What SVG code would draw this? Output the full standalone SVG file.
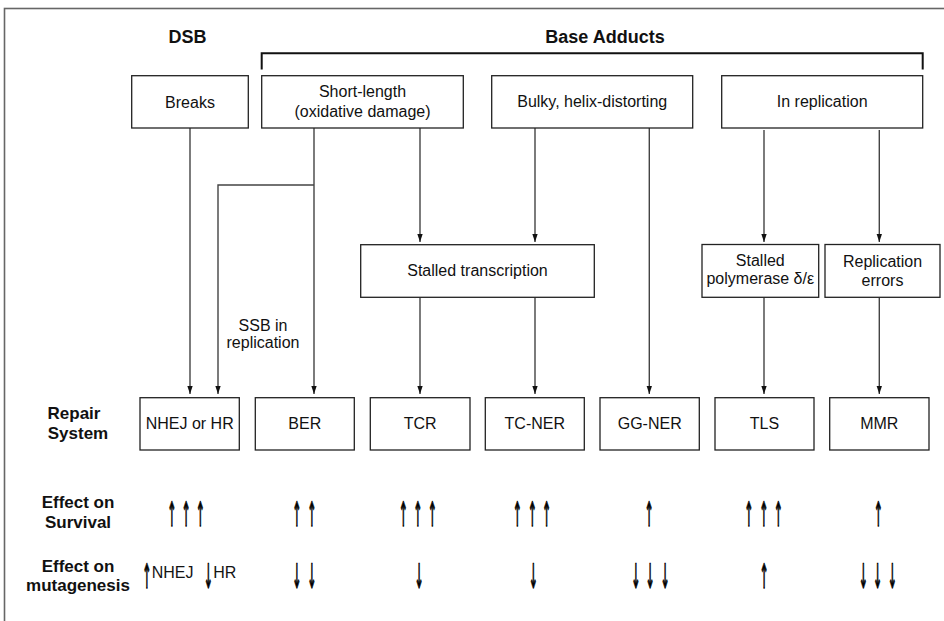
<svg xmlns="http://www.w3.org/2000/svg" width="944" height="621" viewBox="0 0 944 621">
<defs>
<marker id="ah" markerUnits="userSpaceOnUse" markerWidth="8" markerHeight="11" refX="10.5" refY="3.5" orient="auto" viewBox="0 0 10.5 7">
<path d="M0,0 L10.5,3.5 L0,7 z" fill="#111"/>
</marker>
<style>
.box{fill:#fff;stroke:#222;stroke-width:1.3}
.t{font-family:"Liberation Sans",Arial,sans-serif;font-size:16px;fill:#111;text-anchor:middle}
.b{font-family:"Liberation Sans",Arial,sans-serif;font-size:17px;font-weight:bold;fill:#111;text-anchor:middle}
.h{font-family:"Liberation Sans",Arial,sans-serif;font-size:18px;font-weight:bold;fill:#111;text-anchor:middle}
.ar{font-family:"DejaVu Sans",sans-serif;font-size:24px;fill:#000;stroke:#000;stroke-width:0.9;text-anchor:middle}
.s{font-family:"Liberation Sans",Arial,sans-serif;font-size:16px;fill:#111}
.ca{fill:none;stroke:#444;stroke-width:1.4;marker-end:url(#ah)}
.ag{opacity:0.99}
</style>
</defs>
<rect x="0" y="0" width="944" height="621" fill="#fff"/>
<rect x="4.5" y="8.5" width="960" height="640" fill="none" stroke="#666" stroke-width="1.6"/>

<g id="headers">
<text class="h" x="187.5" y="42.5">DSB</text>
<text class="h" x="605" y="42.5">Base Adducts</text>
<path d="M261.7,69.5 V53.3 H922.7 V69.5" fill="none" stroke="#111" stroke-width="2"/>
</g>

<g id="connectors">
<line class="ca" x1="190" y1="128" x2="190" y2="394"/>
<line class="ca" x1="314" y1="128" x2="314" y2="394"/>
<polyline class="ca" points="314,185 218,185 218,394"/>
<line class="ca" x1="420" y1="128" x2="420" y2="242"/>
<line class="ca" x1="535" y1="128" x2="535" y2="242"/>
<line class="ca" x1="649.3" y1="128" x2="649.3" y2="394"/>
<line class="ca" x1="420" y1="297.5" x2="420" y2="394"/>
<line class="ca" x1="535" y1="297.5" x2="535" y2="394"/>
<line class="ca" x1="764" y1="130" x2="764" y2="242"/>
<line class="ca" x1="879.3" y1="130" x2="879.3" y2="242"/>
<line class="ca" x1="764" y1="297.5" x2="764" y2="394"/>
<line class="ca" x1="879.3" y1="297.5" x2="879.3" y2="394"/>
</g>

<g id="n-breaks"><rect class="box" x="131.7" y="75.7" width="116.6" height="52.3"/><text class="t" x="190" y="107.5">Breaks</text></g>
<g id="n-short"><rect class="box" x="261.7" y="75.7" width="201.6" height="52.3"/><text class="t" x="362.5" y="97">Short-length</text><text class="t" x="362.5" y="116.5">(oxidative damage)</text></g>
<g id="n-bulky"><rect class="box" x="491.7" y="75.7" width="201" height="52.3"/><text class="t" x="592.2" y="107">Bulky, helix-distorting</text></g>
<g id="n-inrep"><rect class="box" x="721.7" y="75.7" width="201" height="52.3"/><text class="t" x="822.2" y="107">In replication</text></g>

<g id="n-stalledtx"><rect class="box" x="360.7" y="244.7" width="233.6" height="52.6"/><text class="t" x="477.5" y="275.5">Stalled transcription</text></g>
<g id="n-stalledpol"><rect class="box" x="702" y="244.5" width="116.7" height="52.8"/><text class="t" x="760.3" y="266">Stalled</text><text class="t" x="760.3" y="284">polymerase δ/ε</text></g>
<g id="n-reperr"><rect class="box" x="825" y="244.5" width="115" height="52.8"/><text class="t" x="882.5" y="266.5">Replication</text><text class="t" x="882.5" y="285.5">errors</text></g>

<g id="ssb-label"><text class="t" x="263" y="330.5">SSB in</text><text class="t" x="263" y="348">replication</text></g>

<g id="row-labels">
<text class="b" x="74" y="419">Repair</text>
<text class="b" x="78" y="439">System</text>
<text class="b" x="78" y="508">Effect on</text>
<text class="b" x="78" y="528">Survival</text>
<text class="b" x="78" y="572">Effect on</text>
<text class="b" x="78" y="591">mutagenesis</text>
</g>

<g id="n-nhej"><rect class="box" x="140" y="397.7" width="99.3" height="52.3"/><text class="t" x="189.7" y="428.5">NHEJ or HR</text></g>
<g id="n-ber"><rect class="box" x="255.3" y="397.7" width="99" height="52.3"/><text class="t" x="304.8" y="428.5">BER</text></g>
<g id="n-tcr"><rect class="box" x="370.3" y="397.7" width="99.7" height="52.3"/><text class="t" x="420.2" y="428.5">TCR</text></g>
<g id="n-tcner"><rect class="box" x="485.3" y="397.7" width="99" height="52.3"/><text class="t" x="534.8" y="428.5">TC-NER</text></g>
<g id="n-ggner"><rect class="box" x="600" y="397.7" width="99.3" height="52.3"/><text class="t" x="649.7" y="428.5">GG-NER</text></g>
<g id="n-tls"><rect class="box" x="715" y="397.7" width="99" height="52.3"/><text class="t" x="764.5" y="428.5">TLS</text></g>
<g id="n-mmr"><rect class="box" x="829.7" y="397.7" width="99.3" height="52.3"/><text class="t" x="879.3" y="428.5">MMR</text></g>

<g id="survival" class="ag">
<g transform="translate(186,526) scale(0.45,1.4)"><text class="ar" x="-31.8 0 31.8" y="0">↑↑↑</text></g>
<g transform="translate(304.2,526) scale(0.45,1.4)"><text class="ar" x="-16.7 16.7" y="0">↑↑</text></g>
<g transform="translate(417.8,526) scale(0.45,1.4)"><text class="ar" x="-32.2 0 32.2" y="0">↑↑↑</text></g>
<g transform="translate(532.2,526) scale(0.45,1.4)"><text class="ar" x="-33.3 0 32" y="0">↑↑↑</text></g>
<g transform="translate(649,526) scale(0.45,1.4)"><text class="ar" x="0" y="0">↑</text></g>
<g transform="translate(763.7,526) scale(0.45,1.4)"><text class="ar" x="-33.3 0 32.4" y="0">↑↑↑</text></g>
<g transform="translate(878.3,526) scale(0.45,1.4)"><text class="ar" x="0" y="0">↑</text></g>
</g>

<g id="mutagenesis" class="ag">
<g transform="translate(146.7,588) scale(0.45,1.4)"><text class="ar" x="0" y="0">↑</text></g>
<text class="s" x="151.7" y="578">NHEJ</text>
<g transform="translate(208.3,588) scale(0.45,1.4)"><text class="ar" x="0" y="0">↓</text></g>
<text class="s" x="213.3" y="578">HR</text>
<g transform="translate(304.2,588) scale(0.45,1.4)"><text class="ar" x="-16.7 16.7" y="0">↓↓</text></g>
<g transform="translate(419,588) scale(0.45,1.4)"><text class="ar" x="0" y="0">↓</text></g>
<g transform="translate(533.3,588) scale(0.45,1.4)"><text class="ar" x="0" y="0">↓</text></g>
<g transform="translate(650,588) scale(0.45,1.4)"><text class="ar" x="-31.8 0 33.3" y="0">↓↓↓</text></g>
<g transform="translate(764,588) scale(0.45,1.4)"><text class="ar" x="0" y="0">↑</text></g>
<g transform="translate(877.6,588) scale(0.45,1.4)"><text class="ar" x="-31.8 0 32.7" y="0">↓↓↓</text></g>
</g>
</svg>
